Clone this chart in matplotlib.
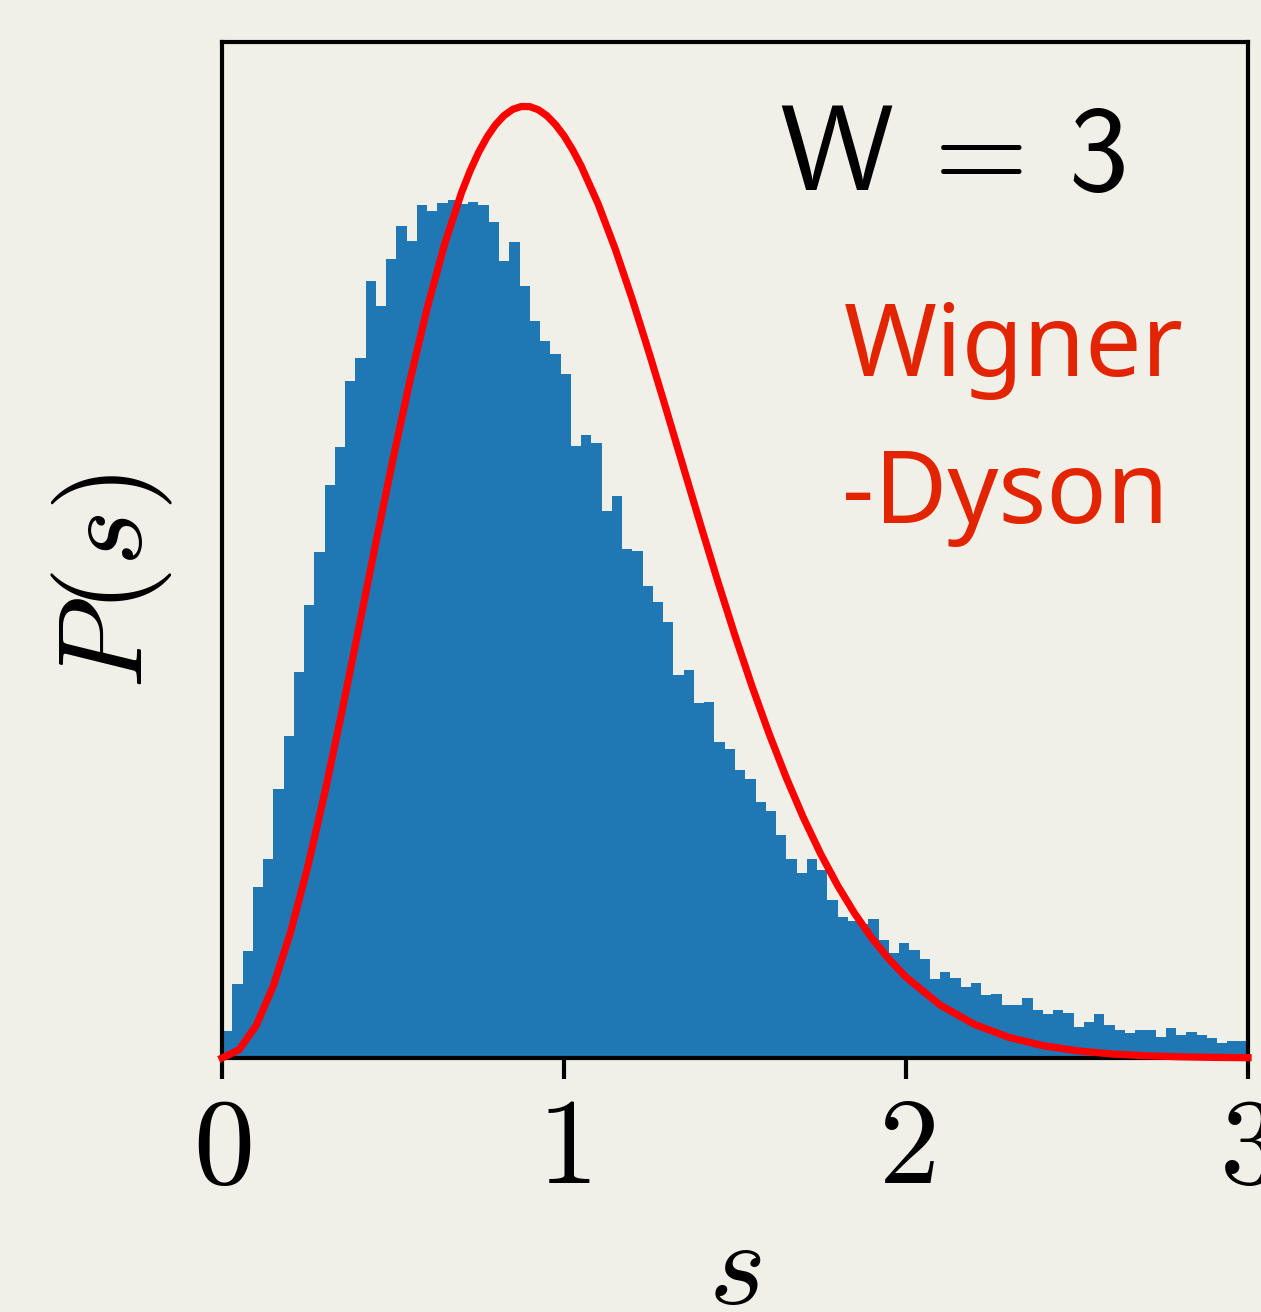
import matplotlib
matplotlib.use('Agg')
import os
import numpy as np
import matplotlib.pyplot as plt
from matplotlib.font_manager import FontProperties

# histogram of level spacings, 100 bins of width 0.03 on [0, 3]
bin_width = 0.03
bin_heights = [
    0.027, 0.073, 0.105, 0.168, 0.196, 0.265, 0.317, 0.380, 0.446, 0.498,
    0.564, 0.601, 0.666, 0.689, 0.765, 0.740, 0.786, 0.819, 0.804, 0.840,
    0.834, 0.842, 0.844, 0.841, 0.843, 0.840, 0.823, 0.784, 0.803, 0.760,
    0.725, 0.706, 0.693, 0.673, 0.602, 0.613, 0.605, 0.538, 0.553, 0.501,
    0.499, 0.465, 0.449, 0.429, 0.377, 0.382, 0.349, 0.350, 0.311, 0.304,
    0.283, 0.275, 0.252, 0.243, 0.219, 0.196, 0.182, 0.196, 0.185, 0.156,
    0.139, 0.135, 0.132, 0.137, 0.116, 0.103, 0.113, 0.106, 0.097, 0.078,
    0.085, 0.079, 0.070, 0.074, 0.062, 0.063, 0.052, 0.052, 0.059, 0.047,
    0.043, 0.047, 0.044, 0.031, 0.035, 0.043, 0.032, 0.028, 0.025, 0.028,
    0.028, 0.021, 0.030, 0.023, 0.026, 0.023, 0.020, 0.015, 0.017, 0.017,
]

# Wigner-Dyson curve (denser around the peak)
curve_s = [0.00, 0.05, 0.10, 0.15, 0.20, 0.25, 0.30, 0.35, 0.40, 0.45,
           0.50, 0.55, 0.60, 0.65, 0.70, 0.725, 0.75, 0.775, 0.80, 0.825,
           0.85, 0.875, 0.90, 0.925, 0.95, 0.975, 1.00, 1.025, 1.05, 1.10,
           1.15, 1.20, 1.25, 1.30, 1.35, 1.40, 1.45,
           1.50, 1.55, 1.60, 1.65, 1.70, 1.75, 1.80, 1.85, 1.90, 1.95,
           2.00, 2.10, 2.20, 2.30, 2.40, 2.50, 2.60, 2.70, 2.80, 2.90, 3.00]
curve_p = [0.0, 0.0081, 0.0320, 0.0709, 0.1233, 0.1871, 0.2602, 0.3398, 0.4232, 0.5074,
           0.5896, 0.6673, 0.7381, 0.8000, 0.8514, 0.8728, 0.8912, 0.9065, 0.9187, 0.9277,
           0.9337, 0.9365, 0.9364, 0.9333, 0.9274, 0.9187, 0.9077, 0.8940, 0.8781, 0.8405,
           0.7961, 0.7464, 0.6928, 0.6371, 0.5805, 0.5240, 0.4688,
           0.4158, 0.3656, 0.3189, 0.2758, 0.2365, 0.2012, 0.1698, 0.1422, 0.1181, 0.0973,
           0.0796, 0.0521, 0.0331, 0.0204, 0.0122, 0.0071, 0.0040, 0.0022, 0.0012, 0.0006, 0.0003]

xticks = [0, 1, 2, 3]
bg = '#f0efe8'

plt.rcParams['mathtext.fontset'] = 'cm'

# computer modern sans shipped with matplotlib
cmss = FontProperties(fname=os.path.join(matplotlib.get_data_path(), 'fonts', 'ttf', 'cmss10.ttf'),
                      size=87)

fig = plt.figure(figsize=(12.61, 13.12), dpi=100, facecolor=bg)
ax = fig.add_axes([0.17605, 0.19360, 0.81364, 0.77439], facecolor=bg)

left_edges = np.arange(len(bin_heights)) * bin_width
ax.bar(left_edges, bin_heights, width=bin_width, align='edge',
       color='#1f77b4', linewidth=0)
ax.plot(curve_s, curve_p, color='red', lw=5.2, clip_on=False, zorder=3,
        solid_joinstyle='round')

ax.set_xlim(0, 3)
ax.set_ylim(0, 1.0)
ax.set_yticks([])
ax.set_xticks(xticks)
ax.set_xticklabels(['$%d$' % t for t in xticks], fontsize=88)
ax.tick_params(axis='x', direction='out', length=15, width=3, pad=9)
for sp in ax.spines.values():
    sp.set_linewidth(3)

fig.text(780 / 1261, 1 - 190 / 1312, 'W = 3', fontproperties=cmss,
         ha='left', va='baseline')
fig.text(844 / 1261, 1 - 376 / 1312, 'Wigner', fontsize=72, color='#e22400',
         family=['Noto Sans', 'DejaVu Sans'], ha='left', va='baseline')
fig.text(842 / 1261, 1 - 523 / 1312, '-Dyson', fontsize=72, color='#e22400',
         family=['Noto Sans', 'DejaVu Sans'], ha='left', va='baseline')

fig.text(112 / 1261, 1 - 581 / 1312, '$P(s)$', fontsize=86, rotation=90,
         ha='center', va='center')
fig.text(735 / 1261, 1 - 1212 / 1312, '$s$', fontsize=88, ha='center', va='top')

fig.savefig('out.png', dpi=100, facecolor=bg)
